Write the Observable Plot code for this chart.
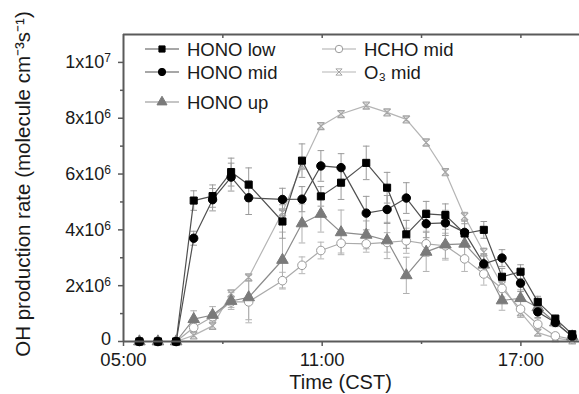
<!DOCTYPE html>
<html><head><meta charset="utf-8">
<script src="https://cdn.jsdelivr.net/npm/d3@7"></script>
<script src="https://cdn.jsdelivr.net/npm/@observablehq/plot@0.6"></script>
<style>body{margin:0;background:#fff} #chart{width:579px;height:394px}</style>
</head><body><div id="chart"></div>
<script>
// Time of each sample (decimal hours, CST)
const times = [5.48, 6.04, 6.59, 7.12, 7.69, 8.25, 8.78, 9.80, 10.39, 10.96, 11.57, 12.33, 12.96, 13.54, 14.14, 14.72, 15.30, 15.88, 16.43, 16.99, 17.51, 18.04, 18.55];
// OH production rates (units of 1e6 molecule cm-3 s-1)
const honoLow = [0, 0, 0, 5.05, 5.21, 6.07, 5.62, 4.30, 6.48, 5.20, 5.69, 6.40, 5.51, 3.84, 4.57, 4.53, 3.87, 4.00, 2.32, 2.50, 1.42, 0.82, 0.26];
const honoMid = [0, 0, 0, 3.70, 5.08, 5.89, 5.15, 5.09, 5.10, 6.29, 6.23, 4.60, 4.73, 5.14, 4.22, 4.25, 3.91, 2.78, 2.99, 2.09, 1.06, 0.68, 0.18];
const honoUp  = [0, 0, 0, 0.80, 0.95, 1.45, 1.58, 2.92, 4.23, 4.57, 3.91, 3.82, 3.62, 2.37, 3.21, 3.47, 3.50, 2.75, 1.47, 1.55, 1.22, 0.68, 0.18];
const hchoMid = [0, 0, 0, 0.50, 0.89, 1.42, 1.42, 2.18, 2.73, 3.26, 3.52, 3.50, 3.55, 3.61, 3.50, 3.43, 2.96, 2.42, 1.90, 1.16, 0.62, 0.20, 0.08];
const o3Mid   = [0, 0, 0, 0.22, 0.56, 1.72, 2.30, 4.63, 6.30, 7.72, 8.15, 8.45, 8.21, 7.96, 7.13, 6.07, 4.48, 3.20, 2.02, 1.04, 0.32, 0.12, 0.04];
// Error bar half-widths (1e6)
const honoLowErr = [0, 0, 0, 0.35, 0.4, 0.5, 0.6, 0.6, 0.6, 0.35, 0.6, 0.6, 0.55, 0.5, 0.45, 0.4, 0.35, 0.3, 0.3, 0.25, 0.2, 0.12, 0.05];
const honoMidErr = [0, 0, 0, 0.25, 0.4, 0.5, 0.6, 0.4, 0.45, 0.55, 0.5, 0.6, 0.5, 0.55, 0.5, 0.45, 0.4, 0.35, 0.3, 0.3, 0.2, 0.12, 0.05];
const honoUpErr  = [0, 0, 0, 0.3, 0.3, 0.3, 0.8, 1.0, 0.7, 0.65, 0.8, 0.5, 0.65, 0.65, 0.7, 0.55, 0.5, 0.4, 0.35, 0.3, 0.25, 0.15, 0.05];
const hchoMidErr = [0, 0, 0, 0.15, 0.15, 0.2, 0.75, 0.3, 0.3, 0.3, 0.35, 0.3, 0.35, 0.45, 0.45, 0.45, 0.45, 0.4, 0.3, 0.3, 0.2, 0.1, 0.05];
const o3MidErr   = [0, 0, 0, 0.1, 0.1, 0.1, 0.1, 0.1, 0.1, 0.1, 0.1, 0.1, 0.1, 0.1, 0.1, 0.1, 0.15, 0.15, 0.15, 0.1, 0.1, 0.05, 0.03];
// Labels
const seriesNames = ["HONO low", "HONO mid", "HONO up", "HCHO mid", "O₃ mid"];
const xTickHours = [5, 11, 17];
const xMinorHours = [8, 14];
const yTicks = [0, 2e6, 4e6, 6e6, 8e6, 1e7];
const yMinor = [1e6, 3e6, 5e6, 7e6, 9e6];
const xLabel = "Time (CST)";
const yLabel = "OH production rate (molecule cm⁻³s⁻¹)";

const values = [honoLow, honoMid, honoUp, hchoMid, o3Mid];
const errors = [honoLowErr, honoMidErr, honoUpErr, hchoMidErr, o3MidErr];

const hourglass = {draw(ctx, size) { const s = Math.sqrt(size / Math.PI);
  ctx.moveTo(-s, -s); ctx.lineTo(s, s); ctx.moveTo(s, -s); ctx.lineTo(-s, s);
  ctx.moveTo(-s, -s); ctx.lineTo(s, -s); ctx.moveTo(-s, s); ctx.lineTo(s, s); }};
const cap = {draw(ctx, size) { const s = Math.sqrt(size / Math.PI); ctx.moveTo(-s, 0); ctx.lineTo(s, 0); }};

const styles = [
  {line: "#505050", fill: "#000", stroke: "#000", symbol: "square", r: 4, err: "#9a9a9a"},
  {line: "#505050", fill: "#000", stroke: "#000", symbol: "circle", r: 4.2, err: "#9a9a9a"},
  {line: "#8c8c8c", fill: "#7a7a7a", stroke: "#7a7a7a", symbol: "triangle", r: 4.3, err: "#b0b0b0"},
  {line: "#ababab", fill: "#fff", stroke: "#9a9a9a", symbol: "circle", r: 4.3, err: "#b5b5b5"},
  {line: "#b5b5b5", fill: "none", stroke: "#a5a5a5", symbol: hourglass, r: 3.6, err: "#c0c0c0"}
];

const rows = [];
seriesNames.forEach((name, s) => times.forEach((t, i) => rows.push({
  s, name, t, v: values[s][i] * 1e6, lo: (values[s][i] - errors[s][i]) * 1e6, hi: (values[s][i] + errors[s][i]) * 1e6
})));

const xFmt = h => String(h).padStart(2, "0") + ":00";

const order = [4, 3, 2, 1, 0];
const marks = [];
for (const s of order) {
  const d = rows.filter(r => r.s === s && r.hi > r.lo);
  marks.push(Plot.ruleX(d, {x: "t", y1: "lo", y2: "hi", stroke: styles[s].err, strokeWidth: 1}));
  marks.push(Plot.dot(d, {x: "t", y: "lo", symbol: cap, r: 3.3, stroke: styles[s].err, strokeWidth: 1}));
  marks.push(Plot.dot(d, {x: "t", y: "hi", symbol: cap, r: 3.3, stroke: styles[s].err, strokeWidth: 1}));
}
for (const s of order) {
  const d = rows.filter(r => r.s === s);
  marks.push(Plot.line(d, {x: "t", y: "v", stroke: styles[s].line, strokeWidth: 1.2}));
}
for (const s of order) {
  const d = rows.filter(r => r.s === s);
  const st = styles[s];
  marks.push(Plot.dot(d, {x: "t", y: "v", symbol: st.symbol, r: st.r, fill: st.fill, stroke: st.stroke, strokeWidth: s === 4 ? 1.1 : 1}));
}

const axisColor = "#5a5a5a";
const font = "'Liberation Sans', Arial, sans-serif";
const chart = Plot.plot({
  width: 579, height: 394,
  marginLeft: 123, marginRight: 0, marginTop: 34, marginBottom: 53,
  style: {fontFamily: font, fontSize: "18px", color: "#1a1a1a", background: "#fff"},
  x: {domain: [5, 18.77]},
  y: {domain: [0, 1.1e7]},
  marks: [
    ...marks,
    Plot.axisX({ticks: xTickHours, tickFormat: xFmt, tickSize: 5, tickPadding: 6, fontSize: 18.5, stroke: axisColor, strokeWidth: 1.5, label: null}),
    Plot.axisX({ticks: xMinorHours, tickFormat: () => "", tickSize: 3, stroke: axisColor, strokeWidth: 1.5, label: null}),
    Plot.axisX({ticks: [...xMinorHours, ...xTickHours.slice(1)], anchor: "bottom", frameAnchor: "top", tickFormat: () => "", tickSize: 4, stroke: axisColor, strokeWidth: 1.5, label: null}),
    Plot.axisY({ticks: yTicks, tickFormat: () => "", tickSize: 5, stroke: axisColor, strokeWidth: 1.5, label: null}),
    Plot.axisY({ticks: yMinor, tickFormat: () => "", tickSize: 3, stroke: axisColor, strokeWidth: 1.5, label: null}),
    Plot.ruleY([0], {stroke: axisColor, strokeWidth: 2}),
    Plot.ruleY([1.1e7], {stroke: axisColor, strokeWidth: 2}),
    Plot.ruleX([5], {stroke: axisColor, strokeWidth: 2}),
    Plot.text([xLabel], {frameAnchor: "bottom", lineAnchor: "middle", textAnchor: "middle", dy: 41, dx: -11, fontSize: 20, fill: "#1a1a1a"}),
    Plot.text([yLabel], {frameAnchor: "left", textAnchor: "middle", lineAnchor: "middle", rotate: -90, dx: -100, dy: -4, fontSize: 20.5, fill: "#1a1a1a"})
  ]
});

const svg = d3.select(chart);
const yScale = chart.scale("y");
const xScale = chart.scale("x");

// Y tick labels with raised exponents (positions from Plot's y scale)
const yl = svg.append("g").attr("font-family", font).attr("text-anchor", "end").attr("fill", "#1a1a1a");
yTicks.forEach(v => {
  const t = yl.append("text").attr("x", xScale.apply(xScale.domain[0]) - 12).attr("y", yScale.apply(v))
    .attr("dy", v === 0 ? "0.22em" : "0.36em").attr("font-size", 18);
  if (v === 0) { t.text("0"); return; }
  const e = Math.floor(Math.log10(v) + 1e-9);
  t.append("tspan").text(`${Math.round(v / 10 ** e)}x10`);
  t.append("tspan").attr("dy", "-0.5em").attr("font-size", 12).text(String(e));
});

// In-plot legend
const legendPos = [[145, 49], [145, 72], [145, 102], [322, 49], [322, 72]];
const lg = svg.append("g").attr("font-size", 18.5).attr("font-family", font).attr("text-anchor", "start");
seriesNames.forEach((name, s) => {
  const [lx, ly] = legendPos[s];
  const st = styles[s];
  const g = lg.append("g").attr("transform", `translate(${lx},${ly})`);
  g.append("line").attr("x1", 0).attr("x2", 34).attr("stroke", st.line).attr("stroke-width", 1.2);
  const sym = typeof st.symbol === "string" ? {square: d3.symbolSquare, circle: d3.symbolCircle, triangle: d3.symbolTriangle}[st.symbol] : st.symbol;
  g.append("path").attr("transform", "translate(17,0)")
    .attr("d", d3.symbol(sym, st.r * st.r * Math.PI * 0.75)())
    .attr("fill", st.fill).attr("stroke", st.stroke);
  g.append("text").attr("x", 42).attr("dy", "0.36em").attr("fill", "#1a1a1a").text(name);
});

document.getElementById("chart").append(chart);
</script>
</body></html>
